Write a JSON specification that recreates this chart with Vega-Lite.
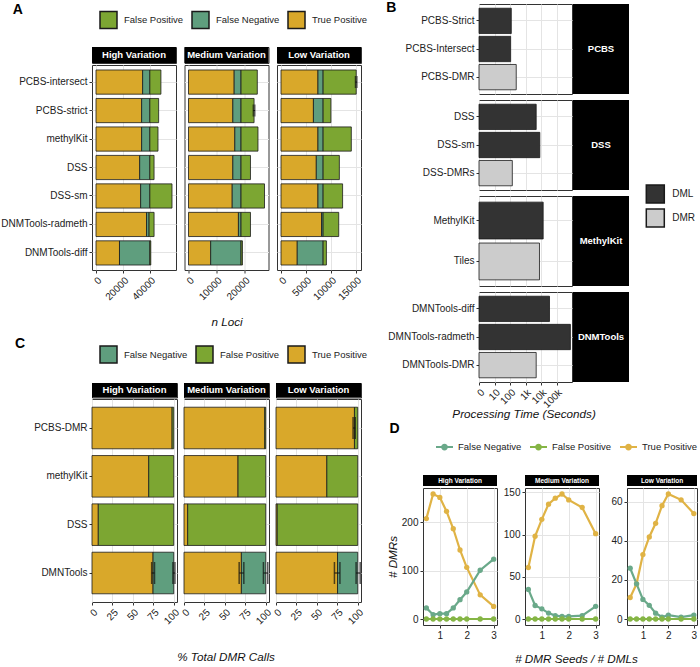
{
 "$schema": "https://vega.github.io/schema/vega-lite/v6.json",
 "background": "white",
 "padding": {"left": 0, "top": 0, "right": 0, "bottom": 0},
 "config": {
  "font": "Liberation Sans",
  "view": {"stroke": "#333333", "strokeWidth": 1},
  "axis": {"labelFont": "Liberation Sans", "labelFontSize": 10, "labelColor": "#222222", "tickColor": "#333333", "tickSize": 3, "domain": false, "gridColor": "#e4e4e4", "labelPadding": 2, "labelOverlap": false, "titleFont": "Liberation Sans", "titleFontSize": 11.7, "titleFontWeight": "normal", "titleFontStyle": "italic", "titleColor": "#111111"},
  "legend": {"labelFont": "Liberation Sans", "labelFontSize": 9.5, "labelColor": "#222222", "padding": 0},
  "header": {"titleFont": "Liberation Sans", "titleFontSize": 11.7, "titleFontStyle": "italic", "titleFontWeight": "normal", "titleColor": "#111111"},
  "title": {"font": "Liberation Sans", "fontSize": 14, "fontWeight": "bold", "anchor": "start", "color": "#000000", "frame": "bounds"}
 },
 "datasets": {
  "stripsABC": [{"variation": "High Variation"}, {"variation": "Medium Variation"}, {"variation": "Low Variation"}],
  "Bgroups": [{"group": "PCBS"}, {"group": "DSS"}, {"group": "MethylKit"}, {"group": "DNMTools"}],
  "B": [
   {"group": "PCBS", "method": "PCBS-Strict", "type": "DML", "seconds": 121},
   {"group": "PCBS", "method": "PCBS-Intersect", "type": "DML", "seconds": 110},
   {"group": "PCBS", "method": "PCBS-DMR", "type": "DMR", "seconds": 253},
   {"group": "DSS", "method": "DSS", "type": "DML", "seconds": 4900},
   {"group": "DSS", "method": "DSS-sm", "type": "DML", "seconds": 8400},
   {"group": "DSS", "method": "DSS-DMRs", "type": "DMR", "seconds": 141},
   {"group": "MethylKit", "method": "MethylKit", "type": "DML", "seconds": 13800},
   {"group": "MethylKit", "method": "Tiles", "type": "DMR", "seconds": 8000},
   {"group": "DNMTools", "method": "DMNTools-diff", "type": "DML", "seconds": 35300},
   {"group": "DNMTools", "method": "DMNTools-radmeth", "type": "DML", "seconds": 790000},
   {"group": "DNMTools", "method": "DMNTools-DMR", "type": "DMR", "seconds": 4900}
  ],
  "A": [
   {"variation": "High Variation", "method": "PCBS-intersect", "category": "True Positive", "value": 34640},
   {"variation": "High Variation", "method": "PCBS-intersect", "category": "False Negative", "value": 5360},
   {"variation": "High Variation", "method": "PCBS-intersect", "category": "False Positive", "value": 8220},
   {"variation": "High Variation", "method": "PCBS-strict", "category": "True Positive", "value": 33900},
   {"variation": "High Variation", "method": "PCBS-strict", "category": "False Negative", "value": 6100},
   {"variation": "High Variation", "method": "PCBS-strict", "category": "False Positive", "value": 6540},
   {"variation": "High Variation", "method": "methylKit", "category": "True Positive", "value": 33900},
   {"variation": "High Variation", "method": "methylKit", "category": "False Negative", "value": 6100},
   {"variation": "High Variation", "method": "methylKit", "category": "False Positive", "value": 6050},
   {"variation": "High Variation", "method": "DSS", "category": "True Positive", "value": 32450},
   {"variation": "High Variation", "method": "DSS", "category": "False Negative", "value": 7550},
   {"variation": "High Variation", "method": "DSS", "category": "False Positive", "value": 3130},
   {"variation": "High Variation", "method": "DSS-sm", "category": "True Positive", "value": 33170},
   {"variation": "High Variation", "method": "DSS-sm", "category": "False Negative", "value": 6830},
   {"variation": "High Variation", "method": "DSS-sm", "category": "False Positive", "value": 16460},
   {"variation": "High Variation", "method": "DNMTools-radmeth", "category": "True Positive", "value": 37540},
   {"variation": "High Variation", "method": "DNMTools-radmeth", "category": "False Negative", "value": 1900},
   {"variation": "High Variation", "method": "DNMTools-radmeth", "category": "False Positive", "value": 3700},
   {"variation": "High Variation", "method": "DNMTools-diff", "category": "True Positive", "value": 17450},
   {"variation": "High Variation", "method": "DNMTools-diff", "category": "False Negative", "value": 22550},
   {"variation": "High Variation", "method": "DNMTools-diff", "category": "False Positive", "value": 700},
   {"variation": "Medium Variation", "method": "PCBS-intersect", "category": "True Positive", "value": 16380},
   {"variation": "Medium Variation", "method": "PCBS-intersect", "category": "False Negative", "value": 2460},
   {"variation": "Medium Variation", "method": "PCBS-intersect", "category": "False Positive", "value": 5830},
   {"variation": "Medium Variation", "method": "PCBS-strict", "category": "True Positive", "value": 15900},
   {"variation": "Medium Variation", "method": "PCBS-strict", "category": "False Negative", "value": 2940},
   {"variation": "Medium Variation", "method": "PCBS-strict", "category": "False Positive", "value": 4670},
   {"variation": "Medium Variation", "method": "methylKit", "category": "True Positive", "value": 16610},
   {"variation": "Medium Variation", "method": "methylKit", "category": "False Negative", "value": 2230},
   {"variation": "Medium Variation", "method": "methylKit", "category": "False Positive", "value": 6070},
   {"variation": "Medium Variation", "method": "DSS", "category": "True Positive", "value": 15900},
   {"variation": "Medium Variation", "method": "DSS", "category": "False Negative", "value": 2940},
   {"variation": "Medium Variation", "method": "DSS", "category": "False Positive", "value": 3380},
   {"variation": "Medium Variation", "method": "DSS-sm", "category": "True Positive", "value": 15670},
   {"variation": "Medium Variation", "method": "DSS-sm", "category": "False Negative", "value": 3170},
   {"variation": "Medium Variation", "method": "DSS-sm", "category": "False Positive", "value": 8410},
   {"variation": "Medium Variation", "method": "DNMTools-radmeth", "category": "True Positive", "value": 17900},
   {"variation": "Medium Variation", "method": "DNMTools-radmeth", "category": "False Negative", "value": 940},
   {"variation": "Medium Variation", "method": "DNMTools-radmeth", "category": "False Positive", "value": 3380},
   {"variation": "Medium Variation", "method": "DNMTools-diff", "category": "True Positive", "value": 7950},
   {"variation": "Medium Variation", "method": "DNMTools-diff", "category": "False Negative", "value": 10890},
   {"variation": "Medium Variation", "method": "DNMTools-diff", "category": "False Positive", "value": 500},
   {"variation": "Low Variation", "method": "PCBS-intersect", "category": "True Positive", "value": 7420},
   {"variation": "Low Variation", "method": "PCBS-intersect", "category": "False Negative", "value": 1040},
   {"variation": "Low Variation", "method": "PCBS-intersect", "category": "False Positive", "value": 6640},
   {"variation": "Low Variation", "method": "PCBS-strict", "category": "True Positive", "value": 6510},
   {"variation": "Low Variation", "method": "PCBS-strict", "category": "False Negative", "value": 1950},
   {"variation": "Low Variation", "method": "PCBS-strict", "category": "False Positive", "value": 1560},
   {"variation": "Low Variation", "method": "methylKit", "category": "True Positive", "value": 7420},
   {"variation": "Low Variation", "method": "methylKit", "category": "False Negative", "value": 1040},
   {"variation": "Low Variation", "method": "methylKit", "category": "False Positive", "value": 5660},
   {"variation": "Low Variation", "method": "DSS", "category": "True Positive", "value": 7090},
   {"variation": "Low Variation", "method": "DSS", "category": "False Negative", "value": 1370},
   {"variation": "Low Variation", "method": "DSS", "category": "False Positive", "value": 3260},
   {"variation": "Low Variation", "method": "DSS-sm", "category": "True Positive", "value": 7420},
   {"variation": "Low Variation", "method": "DSS-sm", "category": "False Negative", "value": 1040},
   {"variation": "Low Variation", "method": "DSS-sm", "category": "False Positive", "value": 3910},
   {"variation": "Low Variation", "method": "DNMTools-radmeth", "category": "True Positive", "value": 8140},
   {"variation": "Low Variation", "method": "DNMTools-radmeth", "category": "False Negative", "value": 320},
   {"variation": "Low Variation", "method": "DNMTools-radmeth", "category": "False Positive", "value": 3130},
   {"variation": "Low Variation", "method": "DNMTools-diff", "category": "True Positive", "value": 3260},
   {"variation": "Low Variation", "method": "DNMTools-diff", "category": "False Negative", "value": 5200},
   {"variation": "Low Variation", "method": "DNMTools-diff", "category": "False Positive", "value": 660},
   {"variation": "Low Variation", "method": "PCBS-intersect", "lo": 14930, "hi": 15260},
   {"variation": "Medium Variation", "method": "PCBS-strict", "lo": 23200, "hi": 23800}
  ],
  "C": [
   {"variation": "High Variation", "method": "PCBS-DMR", "category": "True Positive", "value": 98},
   {"variation": "High Variation", "method": "PCBS-DMR", "category": "False Positive", "value": 2},
   {"variation": "High Variation", "method": "methylKit", "category": "True Positive", "value": 69.4},
   {"variation": "High Variation", "method": "methylKit", "category": "False Positive", "value": 30.6},
   {"variation": "High Variation", "method": "DSS", "category": "True Positive", "value": 7.7},
   {"variation": "High Variation", "method": "DSS", "category": "False Positive", "value": 92.3},
   {"variation": "High Variation", "method": "DMNTools", "category": "True Positive", "value": 74.7},
   {"variation": "High Variation", "method": "DMNTools", "category": "False Negative", "value": 25.3},
   {"variation": "Medium Variation", "method": "PCBS-DMR", "category": "True Positive", "value": 98.8},
   {"variation": "Medium Variation", "method": "PCBS-DMR", "category": "False Positive", "value": 1.2},
   {"variation": "Medium Variation", "method": "methylKit", "category": "True Positive", "value": 66.1},
   {"variation": "Medium Variation", "method": "methylKit", "category": "False Positive", "value": 33.9},
   {"variation": "Medium Variation", "method": "DSS", "category": "True Positive", "value": 4.5},
   {"variation": "Medium Variation", "method": "DSS", "category": "False Positive", "value": 95.5},
   {"variation": "Medium Variation", "method": "DMNTools", "category": "True Positive", "value": 70.2},
   {"variation": "Medium Variation", "method": "DMNTools", "category": "False Negative", "value": 29.8},
   {"variation": "Low Variation", "method": "PCBS-DMR", "category": "True Positive", "value": 96},
   {"variation": "Low Variation", "method": "PCBS-DMR", "category": "False Positive", "value": 4},
   {"variation": "Low Variation", "method": "methylKit", "category": "True Positive", "value": 62.2},
   {"variation": "Low Variation", "method": "methylKit", "category": "False Positive", "value": 37.8},
   {"variation": "Low Variation", "method": "DSS", "category": "True Positive", "value": 1.5},
   {"variation": "Low Variation", "method": "DSS", "category": "False Positive", "value": 98.5},
   {"variation": "Low Variation", "method": "DMNTools", "category": "True Positive", "value": 75.3},
   {"variation": "Low Variation", "method": "DMNTools", "category": "False Negative", "value": 24.7},
   {"variation": "High Variation", "method": "DMNTools", "lo": 73, "hi": 76.5},
   {"variation": "High Variation", "method": "DMNTools", "lo": 99, "hi": 101.5},
   {"variation": "Medium Variation", "method": "DMNTools", "lo": 67.5, "hi": 73.2},
   {"variation": "Medium Variation", "method": "DMNTools", "lo": 97.2, "hi": 102.5},
   {"variation": "Low Variation", "method": "DMNTools", "lo": 71.5, "hi": 78.2},
   {"variation": "Low Variation", "method": "DMNTools", "lo": 98, "hi": 103},
   {"variation": "Low Variation", "method": "PCBS-DMR", "lo": 94.3, "hi": 97}
  ],
  "D": [
   {"variation": "High Variation", "category": "True Positive", "ratio": 0.5, "n": 208},
   {"variation": "High Variation", "category": "True Positive", "ratio": 0.75, "n": 259},
   {"variation": "High Variation", "category": "True Positive", "ratio": 1, "n": 252},
   {"variation": "High Variation", "category": "True Positive", "ratio": 1.25, "n": 223},
   {"variation": "High Variation", "category": "True Positive", "ratio": 1.5, "n": 187},
   {"variation": "High Variation", "category": "True Positive", "ratio": 1.75, "n": 143},
   {"variation": "High Variation", "category": "True Positive", "ratio": 2, "n": 107},
   {"variation": "High Variation", "category": "True Positive", "ratio": 2.5, "n": 50},
   {"variation": "High Variation", "category": "True Positive", "ratio": 3, "n": 26},
   {"variation": "High Variation", "category": "False Negative", "ratio": 0.5, "n": 23},
   {"variation": "High Variation", "category": "False Negative", "ratio": 0.75, "n": 9},
   {"variation": "High Variation", "category": "False Negative", "ratio": 1, "n": 11},
   {"variation": "High Variation", "category": "False Negative", "ratio": 1.25, "n": 11},
   {"variation": "High Variation", "category": "False Negative", "ratio": 1.5, "n": 23},
   {"variation": "High Variation", "category": "False Negative", "ratio": 1.75, "n": 40},
   {"variation": "High Variation", "category": "False Negative", "ratio": 2, "n": 56},
   {"variation": "High Variation", "category": "False Negative", "ratio": 2.5, "n": 101},
   {"variation": "High Variation", "category": "False Negative", "ratio": 3, "n": 124},
   {"variation": "High Variation", "category": "False Positive", "ratio": 0.5, "n": 0},
   {"variation": "High Variation", "category": "False Positive", "ratio": 0.75, "n": 0},
   {"variation": "High Variation", "category": "False Positive", "ratio": 1, "n": 0},
   {"variation": "High Variation", "category": "False Positive", "ratio": 1.25, "n": 0},
   {"variation": "High Variation", "category": "False Positive", "ratio": 1.5, "n": 0},
   {"variation": "High Variation", "category": "False Positive", "ratio": 1.75, "n": 0},
   {"variation": "High Variation", "category": "False Positive", "ratio": 2, "n": 0},
   {"variation": "High Variation", "category": "False Positive", "ratio": 2.5, "n": 0},
   {"variation": "High Variation", "category": "False Positive", "ratio": 3, "n": 0},
   {"variation": "Medium Variation", "category": "True Positive", "ratio": 0.5, "n": 61},
   {"variation": "Medium Variation", "category": "True Positive", "ratio": 0.75, "n": 98},
   {"variation": "Medium Variation", "category": "True Positive", "ratio": 1, "n": 118},
   {"variation": "Medium Variation", "category": "True Positive", "ratio": 1.25, "n": 136},
   {"variation": "Medium Variation", "category": "True Positive", "ratio": 1.5, "n": 143},
   {"variation": "Medium Variation", "category": "True Positive", "ratio": 1.75, "n": 148},
   {"variation": "Medium Variation", "category": "True Positive", "ratio": 2, "n": 141},
   {"variation": "Medium Variation", "category": "True Positive", "ratio": 2.5, "n": 132},
   {"variation": "Medium Variation", "category": "True Positive", "ratio": 3, "n": 101},
   {"variation": "Medium Variation", "category": "False Negative", "ratio": 0.5, "n": 35},
   {"variation": "Medium Variation", "category": "False Negative", "ratio": 0.75, "n": 16},
   {"variation": "Medium Variation", "category": "False Negative", "ratio": 1, "n": 12},
   {"variation": "Medium Variation", "category": "False Negative", "ratio": 1.25, "n": 7},
   {"variation": "Medium Variation", "category": "False Negative", "ratio": 1.5, "n": 4},
   {"variation": "Medium Variation", "category": "False Negative", "ratio": 1.75, "n": 3},
   {"variation": "Medium Variation", "category": "False Negative", "ratio": 2, "n": 3},
   {"variation": "Medium Variation", "category": "False Negative", "ratio": 2.5, "n": 4},
   {"variation": "Medium Variation", "category": "False Negative", "ratio": 3, "n": 15},
   {"variation": "Medium Variation", "category": "False Positive", "ratio": 0.5, "n": 0},
   {"variation": "Medium Variation", "category": "False Positive", "ratio": 0.75, "n": 0},
   {"variation": "Medium Variation", "category": "False Positive", "ratio": 1, "n": 0},
   {"variation": "Medium Variation", "category": "False Positive", "ratio": 1.25, "n": 0},
   {"variation": "Medium Variation", "category": "False Positive", "ratio": 1.5, "n": 0},
   {"variation": "Medium Variation", "category": "False Positive", "ratio": 1.75, "n": 0},
   {"variation": "Medium Variation", "category": "False Positive", "ratio": 2, "n": 0},
   {"variation": "Medium Variation", "category": "False Positive", "ratio": 2.5, "n": 0},
   {"variation": "Medium Variation", "category": "False Positive", "ratio": 3, "n": 0},
   {"variation": "Low Variation", "category": "True Positive", "ratio": 0.5, "n": 11},
   {"variation": "Low Variation", "category": "True Positive", "ratio": 0.75, "n": 18},
   {"variation": "Low Variation", "category": "True Positive", "ratio": 1, "n": 33},
   {"variation": "Low Variation", "category": "True Positive", "ratio": 1.25, "n": 42},
   {"variation": "Low Variation", "category": "True Positive", "ratio": 1.5, "n": 49},
   {"variation": "Low Variation", "category": "True Positive", "ratio": 1.75, "n": 58},
   {"variation": "Low Variation", "category": "True Positive", "ratio": 2, "n": 64},
   {"variation": "Low Variation", "category": "True Positive", "ratio": 2.5, "n": 61},
   {"variation": "Low Variation", "category": "True Positive", "ratio": 3, "n": 54},
   {"variation": "Low Variation", "category": "False Negative", "ratio": 0.5, "n": 26},
   {"variation": "Low Variation", "category": "False Negative", "ratio": 0.75, "n": 18},
   {"variation": "Low Variation", "category": "False Negative", "ratio": 1, "n": 10},
   {"variation": "Low Variation", "category": "False Negative", "ratio": 1.25, "n": 7},
   {"variation": "Low Variation", "category": "False Negative", "ratio": 1.5, "n": 3},
   {"variation": "Low Variation", "category": "False Negative", "ratio": 1.75, "n": 1},
   {"variation": "Low Variation", "category": "False Negative", "ratio": 2, "n": 2},
   {"variation": "Low Variation", "category": "False Negative", "ratio": 2.5, "n": 1},
   {"variation": "Low Variation", "category": "False Negative", "ratio": 3, "n": 2},
   {"variation": "Low Variation", "category": "False Positive", "ratio": 0.5, "n": 0},
   {"variation": "Low Variation", "category": "False Positive", "ratio": 0.75, "n": 0},
   {"variation": "Low Variation", "category": "False Positive", "ratio": 1, "n": 0},
   {"variation": "Low Variation", "category": "False Positive", "ratio": 1.25, "n": 0},
   {"variation": "Low Variation", "category": "False Positive", "ratio": 1.5, "n": 0},
   {"variation": "Low Variation", "category": "False Positive", "ratio": 1.75, "n": 0},
   {"variation": "Low Variation", "category": "False Positive", "ratio": 2, "n": 0},
   {"variation": "Low Variation", "category": "False Positive", "ratio": 2.5, "n": 0},
   {"variation": "Low Variation", "category": "False Positive", "ratio": 3, "n": 0}
  ]
 },
 "concat": [
  {
   "vconcat": [
    {
     "title": {"text": "A", "dx": 12, "offset": -13},
     "spacing": 0,
     "bounds": "flush",
     "vconcat": [
      {"data": {"values": []}, "mark": "point", "encoding": {}, "width": 1, "height": 43, "view": {"stroke": null}},
      {
       "spacing": 0,
       "vconcat": [
        {
         "data": {"name": "stripsABC"},
         "facet": {"column": {"field": "variation", "type": "nominal", "sort": ["High Variation", "Medium Variation", "Low Variation"], "header": {"labels": false, "title": null}}},
         "spacing": 8.5,
         "bounds": "flush",
         "spec": {
          "width": 84, "height": 16,
          "encoding": {"y": {"datum": "s", "type": "nominal", "scale": {"paddingInner": 0, "paddingOuter": 0}, "axis": {"labels": false, "ticks": false, "grid": false, "title": null, "minExtent": 89, "maxExtent": 89}}},
          "layer": [
           {"mark": {"type": "rect", "color": "#000000"}},
           {"mark": {"type": "text", "color": "#ffffff", "fontWeight": "bold", "fontSize": 9.5}, "encoding": {"text": {"field": "variation"}}}
          ]
         }
        },
        {
         "data": {"name": "A"},
         "transform": [{"calculate": "indexof(['True Positive','False Negative','False Positive'], datum.category)", "as": "stackOrder"}],
         "facet": {"column": {"field": "variation", "type": "nominal", "sort": ["High Variation", "Medium Variation", "Low Variation"], "header": {"labels": false, "title": "n Loci", "titleOrient": "bottom", "titlePadding": 37}}},
         "spacing": 8.5,
         "bounds": "flush",
         "resolve": {"scale": {"x": "independent"}},
         "spec": {
          "width": 84, "height": 205,
          "layer": [
           {
            "transform": [{"filter": "isValid(datum.value)"}],
            "mark": {"type": "bar", "stroke": "#1a1a1a", "strokeWidth": 0.8},
            "encoding": {
             "y": {"field": "method", "type": "nominal", "sort": ["PCBS-intersect", "PCBS-strict", "methylKit", "DSS", "DSS-sm", "DNMTools-radmeth", "DNMTools-diff"], "scale": {"paddingInner": 0.15, "paddingOuter": 0.175}, "axis": {"title": null, "grid": true, "bandPosition": 0.5, "minExtent": 89, "maxExtent": 89}},
             "x": {"field": "value", "type": "quantitative", "stack": "zero", "scale": {"zero": true, "nice": false, "padding": 4}, "axis": {"title": null, "labelAngle": -45, "grid": true, "tickCount": 3, "format": "d", "labelOverlap": false}},
             "color": {"field": "category", "type": "nominal", "scale": {"domain": ["False Positive", "False Negative", "True Positive"], "range": ["#7ca632", "#5f9e7e", "#d9a82a"]}, "legend": {"orient": "none", "legendX": 7, "legendY": 6.5, "direction": "horizontal", "title": null, "symbolType": "square", "symbolSize": 289, "labelOffset": 6, "columnPadding": 5, "encode": {"symbols": {"update": {"stroke": {"value": "#222222"}, "strokeWidth": {"value": 1}}}}}},
             "order": {"field": "stackOrder", "type": "quantitative", "sort": "ascending"}
            }
           },
           {
            "transform": [{"filter": "isValid(datum.lo)"}],
            "mark": {"type": "rule", "color": "#111111", "strokeWidth": 1},
            "encoding": {
             "y": {"field": "method", "type": "nominal", "sort": ["PCBS-intersect", "PCBS-strict", "methylKit", "DSS", "DSS-sm", "DNMTools-radmeth", "DNMTools-diff"]},
             "x": {"field": "lo", "type": "quantitative", "axis": {"title": null, "labelAngle": -45, "grid": true, "tickCount": 3, "format": "d", "labelOverlap": false}},
             "x2": {"field": "hi"}
            }
           },
           {
            "transform": [{"filter": "isValid(datum.lo)"}],
            "mark": {"type": "tick", "color": "#111111", "thickness": 1.2, "size": 12},
            "encoding": {
             "y": {"field": "method", "type": "nominal", "sort": ["PCBS-intersect", "PCBS-strict", "methylKit", "DSS", "DSS-sm", "DNMTools-radmeth", "DNMTools-diff"]},
             "x": {"field": "hi", "type": "quantitative", "axis": {"title": null, "labelAngle": -45, "grid": true, "tickCount": 3, "format": "d", "labelOverlap": false}}
            }
           },
           {
            "transform": [{"filter": "isValid(datum.lo)"}],
            "mark": {"type": "tick", "color": "#111111", "thickness": 1.2, "size": 12},
            "encoding": {
             "y": {"field": "method", "type": "nominal", "sort": ["PCBS-intersect", "PCBS-strict", "methylKit", "DSS", "DSS-sm", "DNMTools-radmeth", "DNMTools-diff"]},
             "x": {"field": "lo", "type": "quantitative", "axis": {"title": null, "labelAngle": -45, "grid": true, "tickCount": 3, "format": "d", "labelOverlap": false}}
            }
           }
          ]
         }
        }
       ]
      }
     ]
    },
    {
     "title": {"text": "C", "dx": 12, "offset": -6},
     "spacing": 0,
     "vconcat": [
      {
       "data": {"name": "stripsABC"},
       "facet": {"column": {"field": "variation", "type": "nominal", "sort": ["High Variation", "Medium Variation", "Low Variation"], "header": {"labels": false, "title": null}}},
       "spacing": 7,
       "bounds": "flush",
       "spec": {
        "width": 85, "height": 14.5,
        "encoding": {"y": {"datum": "s", "type": "nominal", "scale": {"paddingInner": 0, "paddingOuter": 0}, "axis": {"labels": false, "ticks": false, "grid": false, "title": null, "minExtent": 89, "maxExtent": 89}}},
        "layer": [
         {"mark": {"type": "rect", "color": "#000000"}},
         {"mark": {"type": "text", "color": "#ffffff", "fontWeight": "bold", "fontSize": 9.5}, "encoding": {"text": {"field": "variation"}}}
        ]
       }
      },
      {
       "data": {"name": "C"},
       "transform": [{"calculate": "indexof(['True Positive','False Positive','False Negative'], datum.category)", "as": "stackOrder"}],
       "facet": {"column": {"field": "variation", "type": "nominal", "sort": ["High Variation", "Medium Variation", "Low Variation"], "header": {"labels": false, "title": "% Total DMR Calls", "titleOrient": "bottom", "titlePadding": 16}}},
       "spacing": 7,
       "bounds": "flush",
       "spec": {
        "width": 85, "height": 203,
        "layer": [
         {
          "transform": [{"filter": "isValid(datum.value)"}],
          "mark": {"type": "bar", "stroke": "#1a1a1a", "strokeWidth": 0.8},
          "encoding": {
           "y": {"field": "method", "type": "nominal", "sort": ["PCBS-DMR", "methylKit", "DSS", "DMNTools"], "scale": {"paddingInner": 0.14, "paddingOuter": 0.17}, "axis": {"title": null, "grid": true, "bandPosition": 0.5, "minExtent": 89, "maxExtent": 89}},
           "x": {"field": "value", "type": "quantitative", "stack": "zero", "scale": {"domain": [0, 104], "nice": false}, "axis": {"title": null, "labelAngle": -45, "grid": true, "values": [0, 25, 50, 75, 100], "labelOverlap": false}},
           "color": {"field": "category", "type": "nominal", "scale": {"domain": ["False Negative", "False Positive", "True Positive"], "range": ["#5f9e7e", "#7ca632", "#d9a82a"]}, "legend": {"orient": "none", "legendX": 7, "legendY": -38, "direction": "horizontal", "title": null, "symbolType": "square", "symbolSize": 289, "labelOffset": 6, "columnPadding": 5, "encode": {"symbols": {"update": {"stroke": {"value": "#222222"}, "strokeWidth": {"value": 1}}}}}},
           "order": {"field": "stackOrder", "type": "quantitative", "sort": "ascending"}
          }
         },
         {
          "transform": [{"filter": "isValid(datum.lo)"}],
          "mark": {"type": "rule", "color": "#111111", "strokeWidth": 1},
          "encoding": {
           "y": {"field": "method", "type": "nominal", "sort": ["PCBS-DMR", "methylKit", "DSS", "DMNTools"]},
           "x": {"field": "lo", "type": "quantitative", "axis": {"title": null, "labelAngle": -45, "grid": true, "values": [0, 25, 50, 75, 100], "labelOverlap": false}},
           "x2": {"field": "hi"}
          }
         },
         {
          "transform": [{"filter": "isValid(datum.lo)"}],
          "mark": {"type": "tick", "color": "#111111", "thickness": 1.5, "size": 22},
          "encoding": {
           "y": {"field": "method", "type": "nominal", "sort": ["PCBS-DMR", "methylKit", "DSS", "DMNTools"]},
           "x": {"field": "lo", "type": "quantitative", "axis": {"title": null, "labelAngle": -45, "grid": true, "values": [0, 25, 50, 75, 100], "labelOverlap": false}}
          }
         },
         {
          "transform": [{"filter": "isValid(datum.lo)"}],
          "mark": {"type": "tick", "color": "#111111", "thickness": 1.5, "size": 22},
          "encoding": {
           "y": {"field": "method", "type": "nominal", "sort": ["PCBS-DMR", "methylKit", "DSS", "DMNTools"]},
           "x": {"field": "hi", "type": "quantitative", "axis": {"title": null, "labelAngle": -45, "grid": true, "values": [0, 25, 50, 75, 100], "labelOverlap": false}}
          }
         }
        ]
       }
      }
     ]
    }
   ],
   "spacing": 8,
   "resolve": {"scale": {"color": "independent"}, "legend": {"color": "independent"}}
  },
  {
   "concat": [
    {
     "title": {"text": "B", "dx": -1, "offset": -11},
     "spacing": 0,
     "bounds": "flush",
     "hconcat": [
      {"data": {"values": []}, "mark": "point", "encoding": {}, "width": 55.6, "height": 1, "view": {"stroke": null}},
      {
       "title": {"text": "Processing Time (Seconds)", "orient": "bottom", "anchor": "start", "frame": "bounds", "dx": 65, "offset": 0, "fontSize": 11.7, "fontStyle": "italic", "fontWeight": "normal", "color": "#111111"},
       "spacing": 0,
       "hconcat": [
        {
         "data": {"name": "B"},
         "facet": {"row": {"field": "group", "type": "nominal", "sort": ["PCBS", "DSS", "MethylKit", "DNMTools"], "header": {"labels": false, "title": null}}},
         "spacing": 6,
         "bounds": "flush",
         "resolve": {"scale": {"y": "independent"}},
         "spec": {
          "width": 93, "height": 90,
          "mark": {"type": "bar", "stroke": "#1a1a1a", "strokeWidth": 0.8},
          "encoding": {
           "y": {"field": "method", "type": "nominal", "sort": ["PCBS-Strict", "PCBS-Intersect", "PCBS-DMR", "DSS", "DSS-sm", "DSS-DMRs", "MethylKit", "Tiles", "DMNTools-diff", "DMNTools-radmeth", "DMNTools-DMR"], "scale": {"paddingInner": 0.1, "paddingOuter": 0.15}, "axis": {"title": null, "grid": true, "bandPosition": 0.5}},
           "x": {"field": "seconds", "type": "quantitative", "scale": {"type": "log", "domain": [1, 1000000], "nice": false}, "axis": {"values": [1, 10, 100, 1000, 10000, 100000], "labelExpr": "datum.value < 2 ? '0' : datum.value < 1000 ? format(datum.value, 'd') : format(datum.value / 1000, 'd') + 'k'", "labelAngle": -45, "title": null, "grid": true}},
           "x2": {"datum": 1},
           "color": {"field": "type", "type": "nominal", "scale": {"domain": ["DML", "DMR"], "range": ["#333333", "#cccccc"]}, "legend": {"orient": "none", "legendX": 222.3, "legendY": 180, "title": null, "symbolType": "square", "symbolSize": 324, "labelOffset": 7, "rowPadding": 0, "labelFontSize": 10, "encode": {"symbols": {"update": {"stroke": {"value": "#222222"}, "strokeWidth": {"value": 1}}}}}}
          }
         }
        },
        {
         "data": {"name": "Bgroups"},
         "facet": {"row": {"field": "group", "type": "nominal", "sort": ["PCBS", "DSS", "MethylKit", "DNMTools"], "header": {"labels": false, "title": null}}},
         "spacing": 6,
         "bounds": "flush",
         "spec": {
          "width": 56, "height": 90,
          "layer": [
           {"mark": {"type": "rect", "color": "#000000"}, "encoding": {}},
           {"mark": {"type": "text", "color": "#ffffff", "fontWeight": "bold", "fontSize": 9.5}, "encoding": {"text": {"field": "group"}}}
          ]
         }
        }
       ]
      }
     ]
    },
    {
     "title": {"text": "D", "dx": 3, "offset": 1.5},
     "spacing": 0,
     "vconcat": [
      {
       "data": {"name": "stripsABC"},
       "spacing": 28,
       "bounds": "flush",
       "hconcat": [
        {
         "transform": [{"filter": "datum.variation === 'High Variation'"}],
         "width": 74, "height": 11,
         "layer": [
          {"mark": {"type": "rect", "color": "#000000"}, "encoding": {}},
          {"mark": {"type": "text", "color": "#ffffff", "fontWeight": "bold", "fontSize": 6.5}, "encoding": {"text": {"field": "variation"}}}
         ]
        },
        {
         "transform": [{"filter": "datum.variation === 'Medium Variation'"}],
         "width": 74, "height": 11,
         "layer": [
          {"mark": {"type": "rect", "color": "#000000"}, "encoding": {}},
          {"mark": {"type": "text", "color": "#ffffff", "fontWeight": "bold", "fontSize": 6.5}, "encoding": {"text": {"field": "variation"}}}
         ]
        },
        {
         "transform": [{"filter": "datum.variation === 'Low Variation'"}],
         "width": 70, "height": 11,
         "layer": [
          {"mark": {"type": "rect", "color": "#000000"}, "encoding": {}},
          {"mark": {"type": "text", "color": "#ffffff", "fontWeight": "bold", "fontSize": 6.5}, "encoding": {"text": {"field": "variation"}}}
         ]
        }
       ]
      },
      {
       "data": {"name": "D"},
       "spacing": 28,
       "bounds": "flush",
       "hconcat": [
        {
         "transform": [{"filter": "datum.variation === 'High Variation'"}],
         "width": 74, "height": 137,
         "mark": {"type": "line", "strokeWidth": 2.2, "point": {"filled": true, "size": 28}},
         "encoding": {
          "x": {"field": "ratio", "type": "quantitative", "scale": {"domain": [0.375, 3.125], "nice": false}, "axis": {"values": [1, 2, 3], "labelAngle": 0, "title": null, "grid": true}},
          "y": {"field": "n", "type": "quantitative", "scale": {"zero": true, "nice": false, "padding": 6}, "axis": {"title": "# DMRs", "grid": true, "minExtent": 22, "maxExtent": 22, "titlePadding": 3}},
          "color": {"field": "category", "type": "nominal", "scale": {"domain": ["False Negative", "False Positive", "True Positive"], "range": ["#6aa98a", "#85b545", "#e0b345"]}, "legend": {"orient": "none", "legendX": 12, "legendY": -37.5, "direction": "horizontal", "title": null, "symbolType": "M-1,0L1,0M0.28,0A0.28,0.28,0,1,1,-0.28,0A0.28,0.28,0,1,1,0.28,0", "symbolSize": 289, "symbolStrokeWidth": 2, "labelOffset": 4, "columnPadding": 4}}
         }
        },
        {
         "transform": [{"filter": "datum.variation === 'Medium Variation'"}],
         "width": 74, "height": 137,
         "mark": {"type": "line", "strokeWidth": 2.2, "point": {"filled": true, "size": 28}},
         "encoding": {
          "x": {"field": "ratio", "type": "quantitative", "scale": {"domain": [0.375, 3.125], "nice": false}, "axis": {"values": [1, 2, 3], "labelAngle": 0, "title": "# DMR Seeds / # DMLs", "titlePadding": 13, "titleX": 51, "grid": true}},
          "y": {"field": "n", "type": "quantitative", "scale": {"zero": true, "nice": false, "padding": 6}, "axis": {"title": null, "grid": true}},
          "color": {"field": "category", "type": "nominal"}
         }
        },
        {
         "transform": [{"filter": "datum.variation === 'Low Variation'"}],
         "width": 70, "height": 137,
         "mark": {"type": "line", "strokeWidth": 2.2, "point": {"filled": true, "size": 28}},
         "encoding": {
          "x": {"field": "ratio", "type": "quantitative", "scale": {"domain": [0.375, 3.125], "nice": false}, "axis": {"values": [1, 2, 3], "labelAngle": 0, "title": null, "grid": true}},
          "y": {"field": "n", "type": "quantitative", "scale": {"zero": true, "nice": false, "padding": 6}, "axis": {"title": null, "grid": true}},
          "color": {"field": "category", "type": "nominal"}
         }
        }
       ]
      }
     ]
    }
   ],
   "columns": 1,
   "spacing": 0,
   "resolve": {"scale": {"color": "independent"}, "legend": {"color": "independent"}}
  }
 ],
 "columns": 2,
 "spacing": 18,
 "resolve": {"scale": {"color": "independent"}, "legend": {"color": "independent"}}
}
